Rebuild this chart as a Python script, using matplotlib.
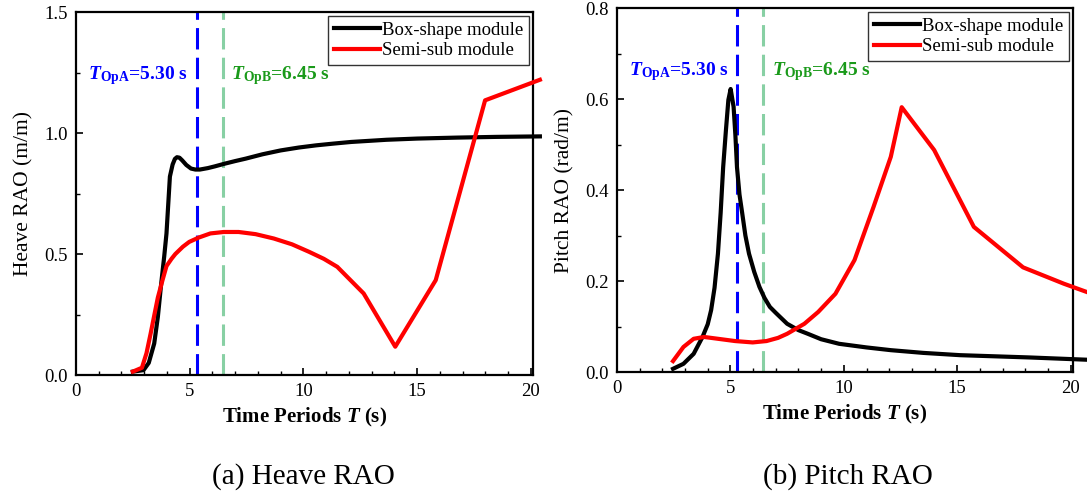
import matplotlib.pyplot as plt
import matplotlib as mpl
from matplotlib.ticker import MultipleLocator

mpl.rcParams.update({
    "font.family": ["Liberation Serif", "DejaVu Serif"],
    "mathtext.fontset": "custom",
    "mathtext.rm": "Liberation Serif",
    "mathtext.it": "Liberation Serif:italic",
    "mathtext.bf": "Liberation Serif:bold",
    "mathtext.bfit": "Liberation Serif:bold:italic",
    "font.size": 13.5,
    "axes.linewidth": 1.6,
    "xtick.direction": "in",
    "ytick.direction": "in",
    "xtick.major.size": 5,
    "ytick.major.size": 5,
    "xtick.minor.size": 3,
    "ytick.minor.size": 3,
    "xtick.major.width": 1.2,
    "ytick.major.width": 1.2,
    "xtick.minor.width": 1.0,
    "ytick.minor.width": 1.0,
    "xtick.major.pad": 6,
    "ytick.major.pad": 6,
})

# ---- heave RAO ----
heave_box_T = [2.5, 2.97, 3.2, 3.44, 3.6, 3.75, 3.88, 3.98, 4.06, 4.13, 4.25, 4.35, 4.44,
               4.55, 4.67, 4.85, 5.06, 5.25, 5.45, 5.8, 6.1, 6.53, 7.0, 7.46, 8.2, 9.0,
               9.8, 10.56, 11.3, 12.1, 13.65, 15.0, 16.75, 18.5, 20.4]
heave_box = [0.014, 0.02, 0.05, 0.13, 0.24, 0.38, 0.49, 0.585, 0.71, 0.82, 0.87, 0.893, 0.90,
             0.898, 0.887, 0.868, 0.853, 0.849, 0.849, 0.855, 0.862, 0.873, 0.884, 0.894, 0.912,
             0.928, 0.94, 0.949, 0.956, 0.963, 0.972, 0.977, 0.981, 0.984, 0.986]
heave_semi_T = [2.5, 2.9, 3.1, 3.28, 3.45, 3.6, 3.8, 3.98, 4.2, 4.37, 4.7, 4.98, 5.4, 5.91,
                6.5, 7.15, 7.9, 8.7, 9.5, 10.25, 10.9, 11.49, 12.65, 14.04, 15.82, 17.99, 20.4]
heave_semi = [0.014, 0.03, 0.09, 0.17, 0.25, 0.32, 0.39, 0.45, 0.48, 0.50, 0.53, 0.55, 0.568, 0.585,
              0.591, 0.591, 0.582, 0.564, 0.54, 0.509, 0.48, 0.447, 0.337, 0.117, 0.392, 1.135, 1.22]

# ---- pitch RAO ----
pitch_box_T = [2.47, 2.93, 3.38, 3.77, 4.0, 4.15, 4.3, 4.45, 4.57, 4.68, 4.8, 4.91, 5.01,
               5.14, 5.22, 5.29, 5.4, 5.52, 5.66, 5.82, 6.05, 6.28, 6.5, 6.74, 7.0, 7.5,
               8.0, 8.41, 9.0, 9.79, 11.0, 12.07, 13.5, 15.12, 18.17, 20.7]
pitch_box = [0.007, 0.018, 0.04, 0.077, 0.105, 0.136, 0.185, 0.26, 0.35, 0.45, 0.53, 0.598, 0.622,
             0.583, 0.52, 0.45, 0.39, 0.349, 0.30, 0.26, 0.22, 0.187, 0.163, 0.143, 0.13, 0.106,
             0.092, 0.084, 0.072, 0.062, 0.054, 0.048, 0.042, 0.037, 0.032, 0.027]
pitch_semi_T = [2.47, 2.93, 3.38, 3.84, 4.45, 5.21, 5.98, 6.59, 7.1, 7.5, 8.26, 8.87, 9.63,
                10.47, 11.31, 12.07, 12.55, 13.98, 15.73, 17.9, 19.7, 20.7]
pitch_semi = [0.024, 0.055, 0.073, 0.077, 0.073, 0.068, 0.065, 0.068, 0.075, 0.084, 0.106, 0.132, 0.172,
              0.246, 0.363, 0.473, 0.582, 0.488, 0.319, 0.230, 0.194, 0.176]

T_OPA = 5.30
T_OPB = 6.45

fig = plt.figure(figsize=(10.87, 4.92), dpi=100)
ax1 = fig.add_axes([0.0699, 0.2378, 0.4205, 0.7378])
ax2 = fig.add_axes([0.5676, 0.2439, 0.4195, 0.7398])


def draw(ax, t_box, y_box, t_semi, y_semi, ylim, ymajor, yminor, ylabel):
    ax.plot(t_box, y_box, color="black", lw=3, label="Box-shape module", clip_on=False, zorder=3)
    ax.plot(t_semi, y_semi, color="#ff0000", lw=3, label="Semi-sub module", clip_on=False, zorder=3)
    # operating periods
    ax.axvline(T_OPA, color="#0000ff", lw=2.2, ls=(0, (7, 2.7)), zorder=2)
    ax.axvline(T_OPB, color="#88d0a4", lw=2.2, ls=(0, (7, 2.7)), zorder=2)
    ax.set_xlim(0, 20.1)
    ax.set_ylim(*ylim)
    ax.xaxis.set_major_locator(MultipleLocator(5))
    ax.xaxis.set_minor_locator(MultipleLocator(1))
    ax.yaxis.set_major_locator(MultipleLocator(ymajor))
    ax.yaxis.set_minor_locator(MultipleLocator(yminor))
    ax.tick_params(which="both", top=False, right=False, labelsize=13.5)
    ax.set_xlabel(r"Time Periods $\mathbfit{T}$ (s)", fontsize=15, fontweight="bold", labelpad=4)
    ax.set_ylabel(ylabel, fontsize=15.5, labelpad=8)
    ax.text(0.026, 0.826, r"$\mathbfit{T}_{\mathbf{OpA}}$=5.30 s", transform=ax.transAxes,
            color="#0000ff", fontsize=14, fontweight="bold", va="center")
    ax.text(0.34, 0.826, r"$\mathbfit{T}_{\mathbf{OpB}}$=6.45 s", transform=ax.transAxes,
            color="#1a9a1a", fontsize=14, fontweight="bold", va="center")
    leg = ax.legend(loc="upper right", fontsize=13.5, frameon=True, fancybox=False,
                    handlelength=2.45, handletextpad=0.15, borderpad=0.3,
                    labelspacing=0.2, borderaxespad=0.2)
    leg.get_frame().set_edgecolor("black")
    leg.get_frame().set_linewidth(1.0)


draw(ax1, heave_box_T, heave_box, heave_semi_T, heave_semi, (0, 1.5), 0.5, 0.25,
     "Heave RAO (m/m)")
draw(ax2, pitch_box_T, pitch_box, pitch_semi_T, pitch_semi, (0, 0.8), 0.2, 0.1,
     "Pitch RAO (rad/m)")

fig.text(0.279, 0.032, "(a) Heave RAO", ha="center", va="center", fontsize=21)
fig.text(0.780, 0.032, "(b) Pitch RAO", ha="center", va="center", fontsize=21)

fig.savefig("out.png", dpi=100)
